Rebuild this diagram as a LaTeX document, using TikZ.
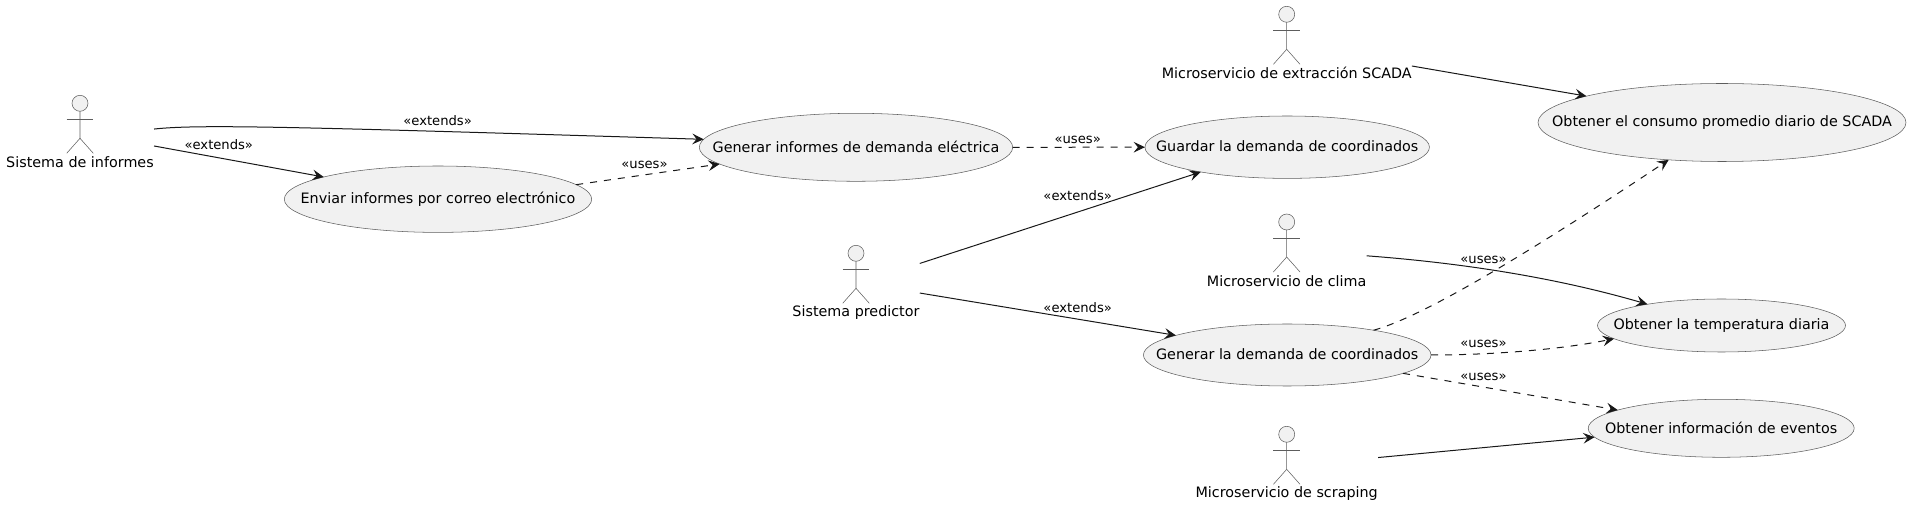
\documentclass[tikz,border=0pt]{standalone}
\usepackage{fontspec}
\setmainfont{DejaVu Sans}
\usetikzlibrary{arrows.meta,shapes.geometric,fit}

\definecolor{ucfill}{HTML}{F1F1F1}
\definecolor{ucline}{HTML}{181818}
\colorlet{ucthin}{ucline!70}

\tikzset{
	usecase/.style 2 args={ellipse, draw=ucthin, line width=0.4pt, fill=ucfill, inner sep=0pt, outer sep=0pt, minimum width=#1*0.75pt, minimum height=#2*0.75pt, font=\fontsize{10.75}{12}\selectfont},
	actorhead/.style={circle, draw=ucthin, line width=0.4pt, fill=ucfill, inner sep=0pt, outer sep=0pt, minimum size=12pt},
	actorline/.style={draw=ucthin, line width=0.4pt},
	actorlabel/.style={inner sep=0pt, minimum height=12pt, font=\fontsize{10.75}{12}\selectfont},
	actorbox/.style={inner sep=0pt, outer sep=0pt},
	stereo/.style={inner sep=0pt, font=\fontsize{9.85}{11}\selectfont},
	rel/.style={draw=ucline, line width=0.75pt, -{Stealth[length=8.5pt, width=8pt, inset=3.2pt]}},
	reldash/.style={rel, dash pattern=on 5.25pt off 5.25pt}
}

% name, x, y of head, label
\newcommand{\actorfig}[4]{
	\node[actorhead] (#1head) at (#2,#3) {};
	\draw[actorline] (#1head.south) -- (#2,#3+35) coordinate (#1hip) -- (#2-13.3,#3+50);
	\draw[actorline] (#1hip) -- (#2+13.3,#3+50);
	\draw[actorline] (#2-13.3,#3+16) -- (#2+13.3,#3+16);
	\node[actorlabel] (#1label) at (#2,#3+59) {#4};
	\node[actorbox, fit=(#1head)(#1label)] (#1) {};
}
\newcommand{\uctext}[1]{\raisebox{1.5pt}{\makebox[0pt]{#1}}}

\begin{document}
\begin{tikzpicture}[x=0.75pt, y=-0.75pt]
	\useasboundingbox (0,0) rectangle (1910,505);

	% actors
	\actorfig{informes}{80}{103.3}{Sistema de informes}
	\actorfig{predictor}{856}{253.3}{Sistema predictor}
	\actorfig{scada}{1286.7}{14.3}{Microservicio de extracción SCADA}
	\actorfig{clima}{1286.7}{222}{Microservicio de clima}
	\actorfig{scraping}{1286.7}{434.3}{Microservicio de scraping}

	% use cases
	\node[usecase={307.4}{66.4}] (enviar) at (438,199.2) {\uctext{Enviar informes por correo electrónico}};
	\node[usecase={313.4}{68}] (geninf) at (856,147.3) {\uctext{Generar informes de demanda eléctrica}};
	\node[usecase={284.5}{62.4}] (guardar) at (1287.2,147.2) {\uctext{Guardar la demanda de coordinados}};
	\node[usecase={287.6}{62}] (gencoord) at (1287.2,355) {\uctext{Generar la demanda de coordinados}};
	\node[usecase={368}{78}] (consumo) at (1722,122.5) {\uctext{Obtener el consumo promedio diario de SCADA}};
	\node[usecase={248}{53}] (temp) at (1721.5,325.5) {\uctext{Obtener la temperatura diaria}};
	\node[usecase={266}{58}] (eventos) at (1721.2,428.3) {\uctext{Obtener información de eventos}};

	% connectors
	\draw[rel] (informes.3.5) .. controls (200,124) and (300,127) .. (geninf.177.66);
	\draw[rel] (informes.-10.1) -- (enviar.169.5);
	\draw[reldash] (enviar.6.7) -- (geninf.187.1);
	\draw[reldash] (geninf.east) -- (guardar.west);
	\draw[rel] (predictor.17.5) -- (guardar.196.8);
	\draw[rel] (predictor.-9.2) -- (gencoord.170.6);
	\draw[rel] (scada.-10.07) -- (consumo.169.9);
	\draw[rel] (clima.-3.8) .. controls (1449,262) and (1547,275) .. (temp.164.6);
	\draw[reldash] (gencoord.16.3) .. controls (1429,315) and (1548,240) .. (consumo.215.5);
	\draw[reldash] (gencoord.east) .. controls (1489,355) and (1558,350) .. (temp.187.6);
	\draw[reldash] (gencoord.-9.3) -- (eventos.170.75);
	\draw[rel] (scraping.4.7) -- (eventos.184.6);

	% stereotypes
	\node[stereo] (lblgeninf) at (437.6,120.7) {«extends»};
	\node[stereo] (lblenviar) at (218.8,144.7) {«extends»};
	\node[stereo] (lblusesenv) at (644.5,164.6) {«uses»};
	\node[stereo] (lblusesgua) at (1077.7,139.7) {«uses»};
	\node[stereo] (lblguardar) at (1077.7,195.7) {«extends»};
	\node[stereo] (lblgencoord) at (1077.7,307.3) {«extends»};
	\node[stereo] (lblusescon) at (1483.5,260) {«uses»};
	\node[stereo] (lblusestem) at (1483.5,344.3) {«uses»};
	\node[stereo] (lbluseseve) at (1483.5,377) {«uses»};
\end{tikzpicture}
\end{document}
